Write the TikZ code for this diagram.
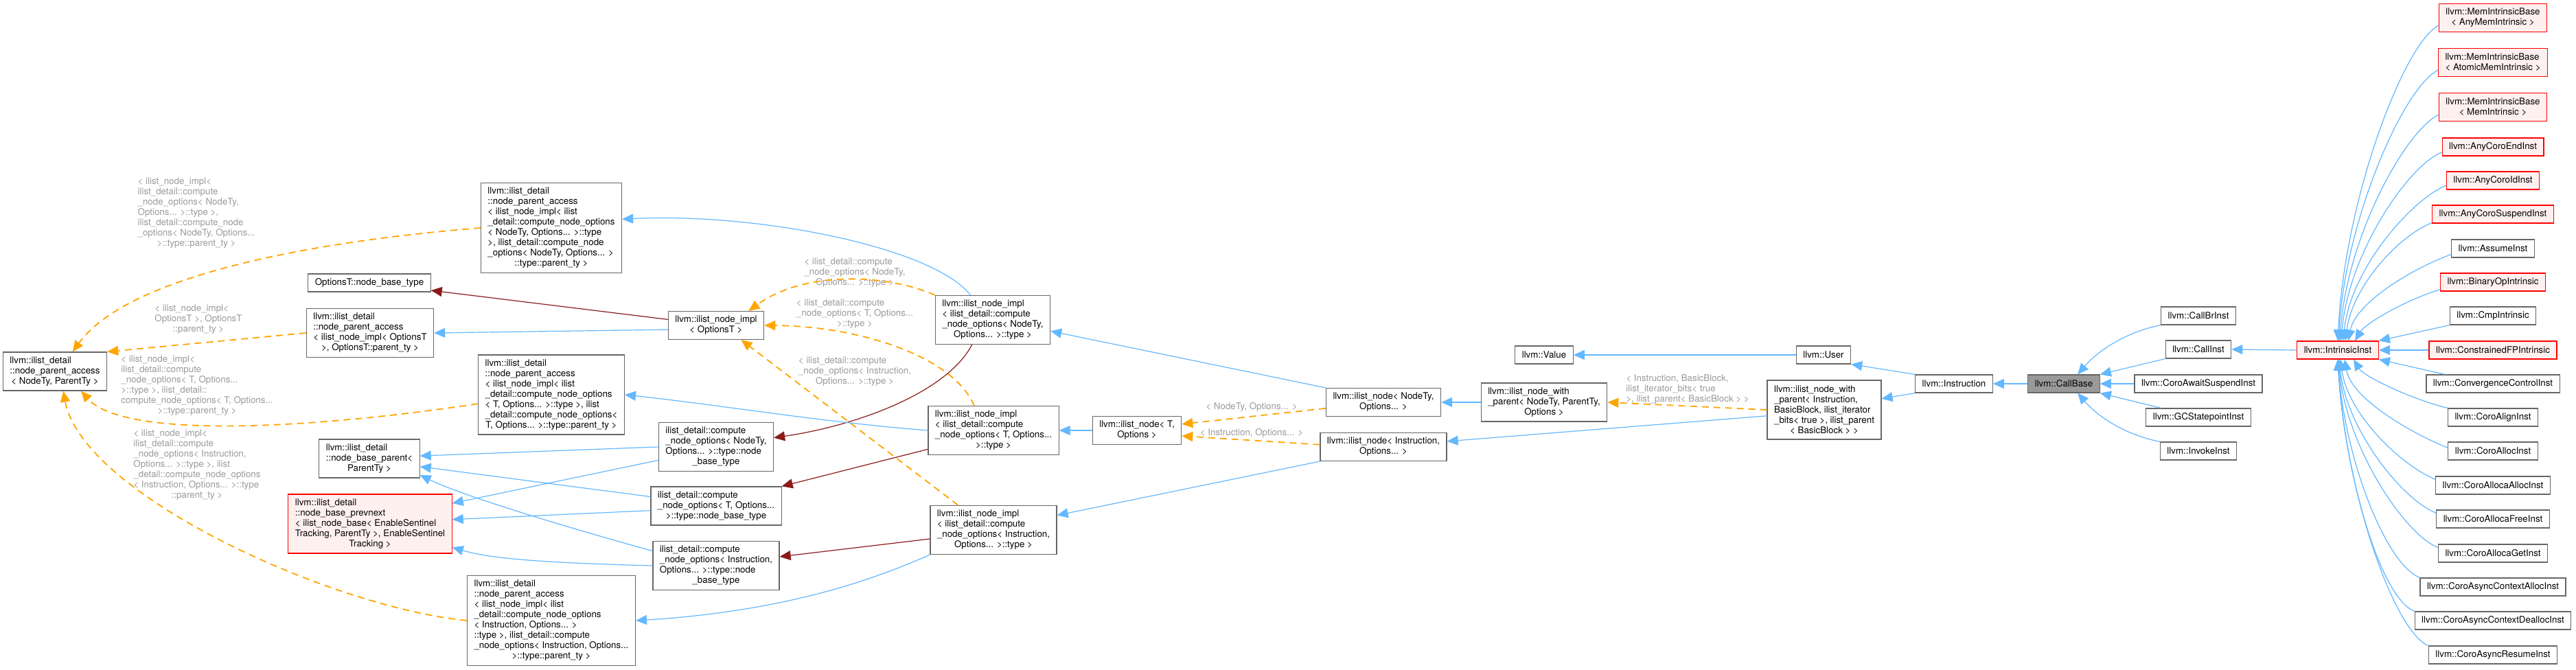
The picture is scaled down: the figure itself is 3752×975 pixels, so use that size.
\documentclass[tikz,border=0pt]{standalone}
\usepackage{fontspec}
\setmainfont{TeX Gyre Heros}
\usepackage{tikz}
\usetikzlibrary{arrows.meta}

\definecolor{inhblue}{HTML}{63B8FF}
\definecolor{usered}{HTML}{8B1A1A}
\definecolor{tmplorange}{HTML}{FFA500}
\definecolor{lblgray}{HTML}{9A9A9A}
\definecolor{boxgray}{HTML}{666666}
\definecolor{redfill}{HTML}{FFF0F0}
\definecolor{curfill}{HTML}{999999}

\newcommand{\ctrln}[1]{\hskip0pt plus1filll #1\hskip0pt plus1filll\null}

\tikzset{
  cls/.style={draw=boxgray, fill=white, line width=0.6pt, align=left,
    inner xsep=5pt, inner ysep=1pt, minimum height=#1*7.5pt+5.5pt},
  cls/.default=1,
  redcls/.style={cls=#1, draw=red, fill=redfill},
  redcls/.default=1,
  lbl/.style={text=lblgray, align=left, inner sep=0pt},
  inh/.style={draw=inhblue, line width=0.6pt, -{Triangle[length=8pt,width=7pt]}},
  usage/.style={draw=usered, line width=0.6pt, -{Triangle[length=8pt,width=7pt]}},
  tmpl/.style={draw=tmplorange, line width=0.9pt, dash pattern=on 5pt off 3.5pt,
    -{Triangle[length=8pt,width=7pt]}}
}

\begin{document}
\begin{tikzpicture}[x=0.5pt, y=-0.5pt, every node/.style={font=\fontsize{6.67}{7.5}\selectfont}]
      \path[use as bounding box, fill=white] (0,0) rectangle (3752,975);
      \node[cls=3] (pa0) at (80,541) {llvm::ilist\_detail\\::node\_parent\_access\\\ctrln{< NodeTy, ParentTy >}};
      \node[cls] (optbase) at (538,412) {OptionsT::node\_base\_type};
      \node[cls=4] (pa2) at (539,485) {llvm::ilist\_detail\\::node\_parent\_access\\< ilist\_node\_impl< OptionsT\\\ctrln{>, OptionsT::parent\_ty >}};
      \node[cls=3] (nbp) at (538,668) {llvm::ilist\_detail\\::node\_base\_parent<\\\ctrln{ParentTy >}};
      \node[redcls=5] (prev) at (539,763) {llvm::ilist\_detail\\::node\_base\_prevnext\\< ilist\_node\_base< EnableSentinel\\Tracking, ParentTy >, EnableSentinel\\\ctrln{Tracking >}};
      \node[cls=8] (pa1) at (803,332) {llvm::ilist\_detail\\::node\_parent\_access\\< ilist\_node\_impl< ilist\\\_detail::compute\_node\_options\\< NodeTy, Options... >::type\\>, ilist\_detail::compute\_node\\\_options< NodeTy, Options... >\\\ctrln{::type::parent\_ty >}};
      \node[cls=7] (pa3) at (803,575) {llvm::ilist\_detail\\::node\_parent\_access\\< ilist\_node\_impl< ilist\\\_detail::compute\_node\_options\\< T, Options... >::type >, ilist\\\_detail::compute\_node\_options<\\\ctrln{T, Options... >::type::parent\_ty >}};
      \node[cls=8] (pa4) at (803,904) {llvm::ilist\_detail\\::node\_parent\_access\\< ilist\_node\_impl< ilist\\\_detail::compute\_node\_options\\< Instruction, Options... >\\::type >, ilist\_detail::compute\\\_node\_options< Instruction, Options...\\\ctrln{>::type::parent\_ty >}};
      \node[cls=2] (impl0) at (1043,474) {llvm::ilist\_node\_impl\\\ctrln{< OptionsT >}};
      \node[cls=4] (nbt1) at (1043,651) {ilist\_detail::compute\\\_node\_options< NodeTy,\\Options... >::type::node\\\ctrln{\_base\_type}};
      \node[cls=3] (nbt2) at (1043,737) {ilist\_detail::compute\\\_node\_options< T, Options...\\\ctrln{>::type::node\_base\_type}};
      \node[cls=4] (nbt3) at (1043,824) {ilist\_detail::compute\\\_node\_options< Instruction,\\Options... >::type::node\\\ctrln{\_base\_type}};
      \node[cls=4] (impln) at (1446,466) {llvm::ilist\_node\_impl\\< ilist\_detail::compute\\\_node\_options< NodeTy,\\\ctrln{Options... >::type >}};
      \node[cls=4] (implt) at (1447,627) {llvm::ilist\_node\_impl\\< ilist\_detail::compute\\\_node\_options< T, Options...\\\ctrln{>::type >}};
      \node[cls=4] (impli) at (1447,772) {llvm::ilist\_node\_impl\\< ilist\_detail::compute\\\_node\_options< Instruction,\\\ctrln{Options... >::type >}};
      \node[cls=2] (nodet) at (1656,627) {llvm::ilist\_node< T,\\\ctrln{Options >}};
      \node[cls=2] (noden) at (2015,586) {llvm::ilist\_node< NodeTy,\\\ctrln{Options... >}};
      \node[cls=2] (nodei) at (2015,651) {llvm::ilist\_node< Instruction,\\\ctrln{Options... >}};
      \node[cls=3] (withp) at (2249,586) {llvm::ilist\_node\_with\\\_parent< NodeTy, ParentTy,\\\ctrln{Options >}};
      \node[cls] (value) at (2249,517) {llvm::Value};
      \node[cls=5] (withpi) at (2657,597) {llvm::ilist\_node\_with\\\_parent< Instruction,\\BasicBlock, ilist\_iterator\\\_bits< true >, ilist\_parent\\\ctrln{< BasicBlock > >}};
      \node[cls] (user) at (2656,517) {llvm::User};
      \node[cls] (instr) at (2846,559) {llvm::Instruction};
      \node[cls, fill=curfill] (callbase) at (3006,559) {llvm::CallBase};
      \node[cls] (callbr) at (3202,460) {llvm::CallBrInst};
      \node[cls] (calli) at (3202,509) {llvm::CallInst};
      \node[cls] (coroawait) at (3202,559) {llvm::CoroAwaitSuspendInst};
      \node[cls] (gcstate) at (3202,608) {llvm::GCStatepointInst};
      \node[cls] (invoke) at (3202,657) {llvm::InvokeInst};
      \node[redcls] (intrinsic) at (3405,510) {llvm::IntrinsicInst};
      \node[redcls=2] (mibany) at (3631,26) {llvm::MemIntrinsicBase\\\ctrln{< AnyMemIntrinsic >}};
      \node[redcls=2] (mibatomic) at (3631,91) {llvm::MemIntrinsicBase\\\ctrln{< AtomicMemIntrinsic >}};
      \node[redcls=2] (mibmem) at (3631,156) {llvm::MemIntrinsicBase\\\ctrln{< MemIntrinsic >}};
      \node[redcls] (coroend) at (3631,214) {llvm::AnyCoroEndInst};
      \node[redcls] (coroid) at (3631,263) {llvm::AnyCoroIdInst};
      \node[redcls] (corosusp) at (3631,312) {llvm::AnyCoroSuspendInst};
      \node[cls] (assume) at (3631,362) {llvm::AssumeInst};
      \node[redcls] (binop) at (3631,411) {llvm::BinaryOpIntrinsic};
      \node[cls] (cmpintr) at (3631,460) {llvm::CmpIntrinsic};
      \node[redcls] (constrfp) at (3631,510) {llvm::ConstrainedFPIntrinsic};
      \node[cls] (convctl) at (3631,559) {llvm::ConvergenceControlInst};
      \node[cls] (coroalign) at (3631,608) {llvm::CoroAlignInst};
      \node[cls] (coroalloc) at (3631,657) {llvm::CoroAllocInst};
      \node[cls] (allocaalloc) at (3631,707) {llvm::CoroAllocaAllocInst};
      \node[cls] (allocafree) at (3631,756) {llvm::CoroAllocaFreeInst};
      \node[cls] (allocaget) at (3631,806) {llvm::CoroAllocaGetInst};
      \node[cls] (asyncalloc) at (3631,855) {llvm::CoroAsyncContextAllocInst};
      \node[cls] (asyncdealloc) at (3631,904) {llvm::CoroAsyncContextDeallocInst};
      \node[cls] (asyncresume) at (3631,954) {llvm::CoroAsyncResumeInst};
      \node[lbl] (lbl1) at (286,310) {< ilist\_node\_impl<\\ilist\_detail::compute\\\_node\_options< NodeTy,\\Options... >::type >,\\ilist\_detail::compute\_node\\\_options< NodeTy, Options...\\\ctrln{>::type::parent\_ty >}};
      \node[lbl] (lbl2) at (289,465) {< ilist\_node\_impl<\\OptionsT >, OptionsT\\\ctrln{::parent\_ty >}};
      \node[lbl] (lbl3) at (287,562) {< ilist\_node\_impl<\\ilist\_detail::compute\\\_node\_options< T, Options...\\>::type >, ilist\_detail::\\compute\_node\_options< T, Options...\\\ctrln{>::type::parent\_ty >}};
      \node[lbl] (lbl4) at (287,677) {< ilist\_node\_impl<\\ilist\_detail::compute\\\_node\_options< Instruction,\\Options... >::type >, ilist\\\_detail::compute\_node\_options\\< Instruction, Options... >::type\\\ctrln{::parent\_ty >}};
      \node[lbl] (lbl5) at (1245,397) {< ilist\_detail::compute\\\_node\_options< NodeTy,\\\ctrln{Options... >::type >}};
      \node[lbl] (lbl6) at (1245,457) {< ilist\_detail::compute\\\_node\_options< T, Options...\\\ctrln{>::type >}};
      \node[lbl] (lbl7) at (1245,541) {< ilist\_detail::compute\\\_node\_options< Instruction,\\\ctrln{Options... >::type >}};
      \node[lbl] (lbl8) at (1823,593) {< NodeTy, Options... >};
      \node[lbl] (lbl9) at (1823,631) {< Instruction, Options... >};
      \node[lbl] (lbl10) at (2458,567) {< Instruction, BasicBlock,\\ilist\_iterator\_bits< true\\\ctrln{>, ilist\_parent< BasicBlock > >}};
      \draw[tmpl] (pa1.west) .. controls +(-250,20) and +(80,-110) .. (pa0.48);
      \draw[tmpl] (pa2.west) -- (pa0.north east);
      \draw[tmpl] (pa3.187) .. controls +(-245,37) and +(63,70) .. (pa0.-37);
      \draw[tmpl] (pa4.west) .. controls +(-200,-20) and +(28,150) .. (pa0.-67);
      \draw[tmpl] (impln.north west) .. controls +(-74,-32) and +(80,-58) .. (impl0.24);
      \draw[tmpl] (implt.128) .. controls +(-30,-72) and +(137,1) .. (impl0.east);
      \draw[tmpl] (impli.145) -- (impl0.-30);
      \draw[tmpl] (noden.186) -- (nodet.8);
      \draw[tmpl] (nodei.178) -- (nodet.-7);
      \draw[tmpl] (withpi.west) -- (withp.east);
      \draw[usage] (impl0.173) -- (optbase.-7);
      \draw[usage] (impln.230) .. controls +(-36,69) and +(123,-18) .. (nbt1.9);
      \draw[usage] (implt.196) -- (nbt2.north east);
      \draw[usage] (impli.188) -- (nbt3.8);
      \draw[inh] (impl0.185) -- (pa2.east);
      \draw[inh] (impln.132) .. controls +(-54,-70) and +(195,-10) .. (pa1.7);
      \draw[inh] (implt.west) .. controls +(-153,-12) and +(139,15) .. (pa3.east);
      \draw[inh] (impli.south west) .. controls +(-75,33) and +(225,-14) .. (pa4.east);
      \draw[inh] (nbt1.west) -- (nbp.3);
      \draw[inh] (nbt1.193) -- (prev.14);
      \draw[inh] (nbt2.172) -- (nbp.-9);
      \draw[inh] (nbt2.184) -- (prev.3);
      \draw[inh] (nbt3.167) .. controls +(-155,-43) and +(55,27) .. (nbp.-18);
      \draw[inh] (nbt3.west) .. controls +(-152,-4) and +(57,17) .. (prev.-16);
      \draw[inh] (nodet.west) -- (implt.east);
      \draw[inh] (nodei.south west) -- (impli.13);
      \draw[inh] (noden.north west) -- (impln.-11);
      \draw[inh] (withp.west) -- (noden.east);
      \draw[inh] (withpi.186) -- (nodei.5);
      \draw[inh] (user.west) -- (value.east);
      \draw[inh] (instr.north west) -- (user.south east);
      \draw[inh] (instr.south west) -- (withpi.11);
      \draw[inh] (callbase.west) -- (instr.east);
      \draw[inh] (callbr.south west) .. controls +(-50,10) and +(30,-35) .. (callbase.34);
      \draw[inh] (calli.south west) -- (callbase.north east);
      \draw[inh] (coroawait.west) -- (callbase.east);
      \draw[inh] (gcstate.166) -- (callbase.south east);
      \draw[inh] (invoke.north west) .. controls +(-50,-10) and +(30,35) .. (callbase.-34);
      \draw[inh] (intrinsic.west) -- (calli.east);
      \draw[inh] (mibany.188) .. controls +(-50,25) and +(10,-207) .. (intrinsic.north);
      \draw[inh] (mibatomic.188) .. controls +(-50,25) and +(10,-177) .. ([xshift=0.5pt]intrinsic.north);
      \draw[inh] (mibmem.188) .. controls +(-50,25) and +(10,-149) .. ([xshift=1.5pt]intrinsic.north);
      \draw[inh] (coroend.186) .. controls +(-50,20) and +(10,-125) .. ([xshift=2.5pt]intrinsic.north);
      \draw[inh] (coroid.186) .. controls +(-50,20) and +(10,-104) .. ([xshift=4pt]intrinsic.north);
      \draw[inh] (corosusp.188) .. controls +(-50,20) and +(10,-78) .. ([xshift=5.5pt]intrinsic.north);
      \draw[inh] (assume.188) .. controls +(-50,18) and +(12,-58) .. ([xshift=7.5pt]intrinsic.north);
      \draw[inh] (binop.188) .. controls +(-50,15) and +(15,-25) .. ([xshift=12.5pt]intrinsic.north);
      \draw[inh] (cmpintr.south west) -- (intrinsic.north east);
      \draw[inh] (constrfp.west) -- (intrinsic.east);
      \draw[inh] (convctl.169) -- (intrinsic.south east);
      \draw[inh] (coroalign.north west) .. controls +(-50,-12) and +(15,25) .. ([xshift=11.5pt]intrinsic.south);
      \draw[inh] (coroalloc.176) .. controls +(-50,-20) and +(10,58) .. ([xshift=5pt]intrinsic.south);
      \draw[inh] (allocaalloc.174) .. controls +(-50,-20) and +(10,79) .. ([xshift=2pt]intrinsic.south);
      \draw[inh] (allocafree.174) .. controls +(-50,-20) and +(10,101) .. ([xshift=1pt]intrinsic.south);
      \draw[inh] (allocaget.174) .. controls +(-50,-20) and +(10,124) .. ([xshift=0.5pt]intrinsic.south);
      \draw[inh] (asyncalloc.north west) .. controls +(-50,-20) and +(10,144) .. (intrinsic.south);
      \draw[inh] (asyncdealloc.north west) .. controls +(-50,-20) and +(10,166) .. (intrinsic.south);
      \draw[inh] (asyncresume.north west) .. controls +(-50,-20) and +(10,189) .. (intrinsic.south);
    \end{tikzpicture}
\end{document}
